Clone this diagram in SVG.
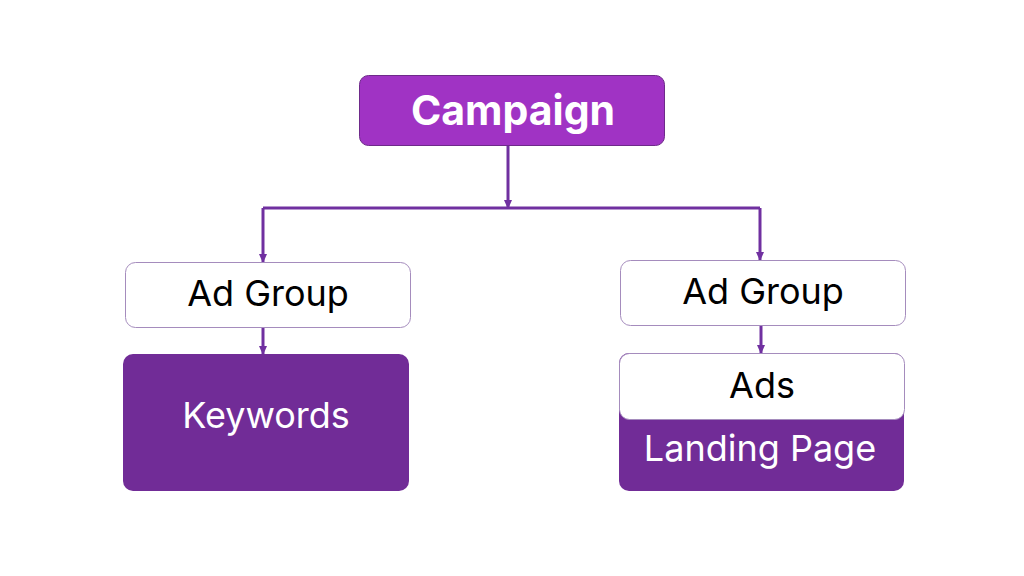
<svg xmlns="http://www.w3.org/2000/svg" width="1024" height="576" viewBox="0 0 1024 576">
<defs>
<marker id="ah" markerWidth="10" markerHeight="10" refX="8" refY="5" orient="auto" markerUnits="userSpaceOnUse" viewBox="0 0 10 10">
<path d="M0,1 L9,5 L0,9 Z" fill="#7030a0"/>
</marker>
</defs>
<style>
.t{font-family:Inter,"Open Sans","Liberation Sans",sans-serif;text-anchor:middle}
.w{fill:#ffffff;stroke:#a58cbd;stroke-width:1}
.p{fill:#712c97}
.c{fill:none;stroke:#7030a0;stroke-width:3}
</style>
<rect width="1024" height="576" fill="#ffffff"/>
<g id="connectors">
<path class="c" d="M508,145 V208" marker-end="url(#ah)"/>
<path class="c" d="M263,208 H760"/>
<path class="c" d="M263,208 V262" marker-end="url(#ah)"/>
<path class="c" d="M760,208 V260" marker-end="url(#ah)"/>
<path class="c" d="M263,327 V354" marker-end="url(#ah)"/>
<path class="c" d="M761,326 V353" marker-end="url(#ah)"/>
</g>
<g id="campaign">
<rect x="359.5" y="75.5" width="305" height="70" rx="9" fill="#a033c4" stroke="#6e2a8a" stroke-width="1"/>
<text class="t" x="513" y="125" font-size="41" font-weight="700" fill="#ffffff">Campaign</text>
</g>
<g id="adgroup-left">
<rect class="w" x="125.5" y="262.5" width="285" height="65" rx="10"/>
<text class="t" x="268" y="306" font-size="36" fill="#000000">Ad Group</text>
</g>
<g id="keywords">
<rect class="p" x="123" y="354" width="286" height="137" rx="10"/>
<text class="t" x="266" y="428" font-size="36" fill="#ffffff">Keywords</text>
</g>
<g id="adgroup-right">
<rect class="w" x="620.5" y="260.5" width="285" height="65" rx="10"/>
<text class="t" x="763" y="304" font-size="36" fill="#000000">Ad Group</text>
</g>
<g id="ads-landing">
<rect class="p" x="619" y="353" width="285" height="138" rx="10"/>
<rect class="w" x="619.5" y="353.5" width="285" height="66" rx="10"/>
<text class="t" x="762" y="398" font-size="36" fill="#000000">Ads</text>
<text class="t" x="760" y="461" font-size="36" fill="#ffffff">Landing Page</text>
</g>
</svg>
